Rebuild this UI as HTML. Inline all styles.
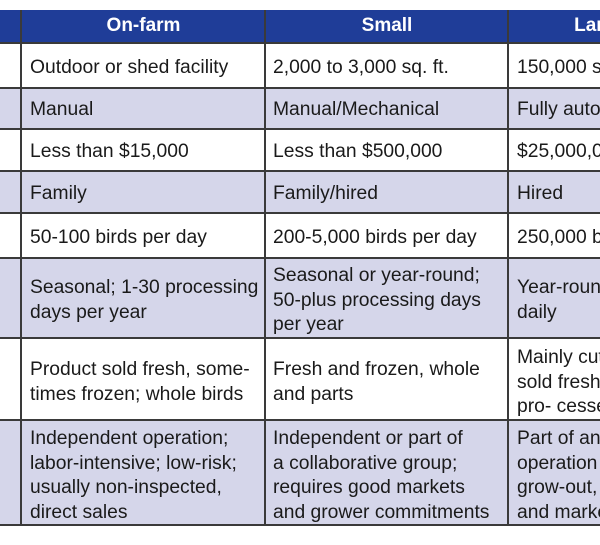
<!DOCTYPE html>
<html><head><style>
html,body{margin:0;width:600px;height:545px;overflow:hidden;}
body{background:#fff;position:relative;font-family:"Liberation Sans",sans-serif;}
.r{position:absolute;left:0;width:600px;}
.l{position:absolute;background:#3a3a3a;}
.t{position:absolute;font-size:19.3px;line-height:24.5px;color:#1a1a1a;white-space:nowrap;margin-top:2px;}
.h{position:absolute;top:10px;height:32px;line-height:32px;color:#fff;font-weight:bold;font-size:19px;text-align:center;}
.clip{position:absolute;left:508px;top:0;width:92px;height:545px;overflow:hidden;}
</style></head><body>
<div class="r" style="top:10px;height:32px;background:#1f3d98"></div>
<div class="r" style="top:88px;height:41px;background:#d5d6ea"></div>
<div class="r" style="top:171px;height:42px;background:#d5d6ea"></div>
<div class="r" style="top:258px;height:80px;background:#d5d6ea"></div>
<div class="r" style="top:420px;height:105px;background:#d5d6ea"></div>
<div class="h" style="left:22px;width:243px">On-farm</div>
<div class="h" style="left:266px;width:242px">Small</div>
<div class="l" style="left:0;width:600px;top:42px;height:1.5px"></div>
<div class="l" style="left:0;width:600px;top:87px;height:1.5px"></div>
<div class="l" style="left:0;width:600px;top:128px;height:1.5px"></div>
<div class="l" style="left:0;width:600px;top:170px;height:1.5px"></div>
<div class="l" style="left:0;width:600px;top:212px;height:1.5px"></div>
<div class="l" style="left:0;width:600px;top:257px;height:1.5px"></div>
<div class="l" style="left:0;width:600px;top:337px;height:1.5px"></div>
<div class="l" style="left:0;width:600px;top:419px;height:1.5px"></div>
<div class="l" style="left:0;width:600px;top:524px;height:1.5px"></div>
<div class="l" style="left:20px;width:1.5px;top:10px;height:515px"></div>
<div class="l" style="left:264px;width:1.5px;top:10px;height:515px"></div>
<div class="l" style="left:507px;width:1.5px;top:10px;height:515px"></div>
<div class="t" style="left:30px;top:54px">Outdoor or shed facility</div>
<div class="t" style="left:30px;top:96px">Manual</div>
<div class="t" style="left:30px;top:138px">Less than $15,000</div>
<div class="t" style="left:30px;top:180px">Family</div>
<div class="t" style="left:30px;top:224px">50-100 birds per day</div>
<div class="t" style="left:30px;top:274px">Seasonal; 1-30 processing<br>days per year</div>
<div class="t" style="left:30px;top:356px">Product sold fresh, some-<br>times frozen; whole birds</div>
<div class="t" style="left:30px;top:425px">Independent operation;<br>labor-intensive; low-risk;<br>usually non-inspected,<br>direct sales</div>
<div class="t" style="left:273px;top:54px">2,000 to 3,000 sq. ft.</div>
<div class="t" style="left:273px;top:96px">Manual/Mechanical</div>
<div class="t" style="left:273px;top:138px">Less than $500,000</div>
<div class="t" style="left:273px;top:180px">Family/hired</div>
<div class="t" style="left:273px;top:224px">200-5,000 birds per day</div>
<div class="t" style="left:273px;top:262px">Seasonal or year-round;<br>50-plus processing days<br>per year</div>
<div class="t" style="left:273px;top:356px">Fresh and frozen, whole<br>and parts</div>
<div class="t" style="left:273px;top:425px">Independent or part of<br>a collaborative group;<br>requires good markets<br>and grower commitments</div>
<div class="clip">
<div class="h" style="left:1px;width:182px">Large</div>
<div class="t" style="left:9px;top:54px">150,000 sq. ft.</div>
<div class="t" style="left:9px;top:96px">Fully automated</div>
<div class="t" style="left:9px;top:138px">$25,000,000</div>
<div class="t" style="left:9px;top:180px">Hired</div>
<div class="t" style="left:9px;top:224px">250,000 birds</div>
<div class="t" style="left:9px;top:274px">Year-round<br>daily</div>
<div class="t" style="left:9px;top:344px">Mainly cut<br>sold fresh,<br>pro- cessed</div>
<div class="t" style="left:9px;top:425px">Part of an<br>operation<br>grow-out,<br>and market</div>
</div>
</body></html>
